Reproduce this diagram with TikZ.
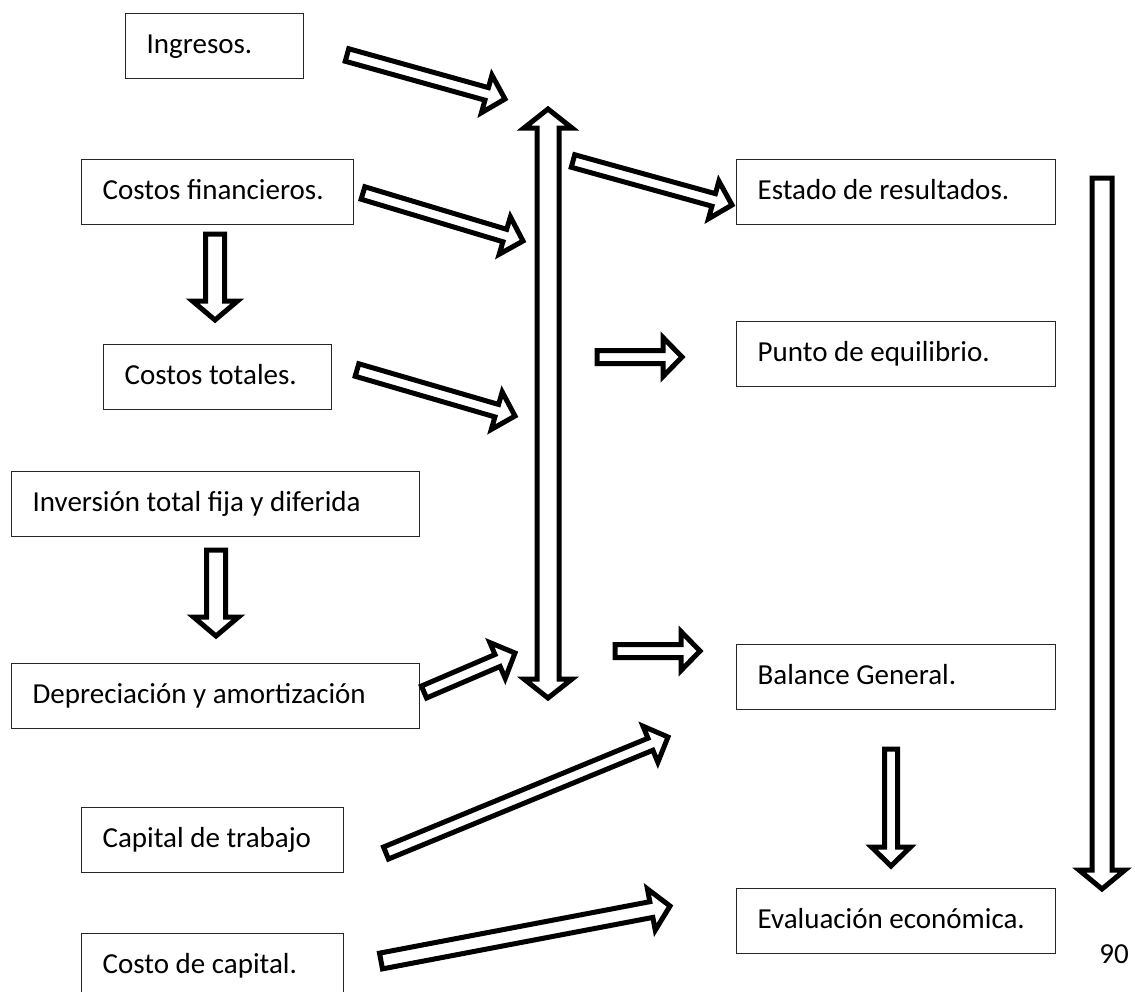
\documentclass[tikz,border=0pt]{standalone}
\usepackage{fontspec}
\setmainfont{Carlito}
\usetikzlibrary{calc}

\def\fahead{19pt}
\newcommand{\fatarrow}[3][6.5]{%
  \pgfmathsetlengthmacro\fahw{#1pt+13pt}%
  \coordinate (fa-h) at ($(#3)!\fahead!(#2)$);
  \draw[fatline] ($(#2)!#1pt!90:(#3)$) -- ($(fa-h)!#1pt!90:(#3)$)
    -- ($(fa-h)!\fahw!90:(#3)$) -- (#3)
    -- ($(fa-h)!\fahw!-90:(#3)$) -- ($(fa-h)!#1pt!-90:(#3)$)
    -- ($(#2)!#1pt!-90:(#3)$) -- cycle;}
\newcommand{\fatdarrow}[3][11]{%
  \pgfmathsetlengthmacro\fahw{#1pt+13pt}%
  \coordinate (fd-a) at ($(#2)!\fahead!(#3)$);
  \coordinate (fd-b) at ($(#3)!\fahead!(#2)$);
  \draw[fatline] (#2) -- ($(fd-a)!\fahw!90:(#3)$) -- ($(fd-a)!#1pt!90:(#3)$)
    -- ($(fd-b)!#1pt!90:(#3)$) -- ($(fd-b)!\fahw!90:(#3)$) -- (#3)
    -- ($(fd-b)!\fahw!-90:(#3)$) -- ($(fd-b)!#1pt!-90:(#3)$)
    -- ($(fd-a)!#1pt!-90:(#3)$) -- ($(fd-a)!\fahw!-90:(#3)$) -- cycle;}

\begin{document}
\begin{tikzpicture}[x=1pt,y=-1pt,
  itembox/.style={draw=black!85, line width=1.3pt, anchor=north west,
    minimum height=65pt, inner xsep=21pt, inner ysep=0pt, text width=#1,
    align=flush left, text height=20pt, text depth=6pt,
    font=\fontsize{29}{35}\selectfont},
  fatline/.style={draw=black, fill=white, line width=5pt, line join=miter}]
\useasboundingbox (0,0) rectangle (1135,991);

\node[itembox=136pt] (ing) at (125,13) {Ingresos.};
\node[itembox=230pt] (cfin) at (81,159) {Costos financieros.};
\node[itembox=186pt] (ctot) at (103,344) {Costos totales.};
\node[itembox=366pt] (inv) at (11,471) {Inversión total fija y diferida};
\node[itembox=366pt] (dep) at (11,663) {Depreciación y amortización};
\node[itembox=220pt] (ctrab) at (81,807) {Capital de trabajo};
\node[itembox=220pt] (ccap) at (81,933) {Costo de capital.};
\node[itembox=277pt] (edo) at (736,159) {Estado de resultados.};
\node[itembox=277pt] (pe) at (736,321) {Punto de equilibrio.};
\node[itembox=277pt] (bg) at (736,644) {Balance General.};
\node[itembox=277pt] (ee) at (736,888) {Evaluación económica.};
\node[font=\fontsize{29}{35}\selectfont] (pag) at (1114,954) {90};

\coordinate (t1) at (347,55);   \coordinate (h1) at (505,99);
\coordinate (t2) at (363,193);  \coordinate (h2) at (523,241);
\coordinate (t3) at (573,161);  \coordinate (h3) at (732,205);
\coordinate (t4) at (357,370);  \coordinate (h4) at (515,416);
\coordinate (t5) at (597,357);  \coordinate (h5) at (682,357);
\coordinate (t6) at (615,651);  \coordinate (h6) at (700,651);
\coordinate (t7) at (424,692);  \coordinate (h7) at (515,653);
\coordinate (t8) at (386,853);  \coordinate (h8) at (668,737);
\coordinate (t9) at (381,961);  \coordinate (h9) at (670,906);
\coordinate (vf) at (215,234);  \coordinate (vt) at (215,320);
\coordinate (vi) at (216,550);  \coordinate (vd) at (216,636);
\coordinate (vb) at (891,749);  \coordinate (ve) at (891,866);
\coordinate (rt) at (1102,178); \coordinate (rb) at (1102,889);
\coordinate (ct) at (548,109);  \coordinate (cb) at (548,698);

\fatarrow{t1}{h1}
\fatarrow{t2}{h2}
\fatarrow{t3}{h3}
\fatarrow{t4}{h4}
\fatarrow{t5}{h5}
\fatarrow{t6}{h6}
\fatarrow{t7}{h7}
\fatarrow{t8}{h8}
\fatarrow[8]{t9}{h9}
\fatarrow[9.5]{vf}{vt}
\fatarrow[9.5]{vi}{vd}
\fatarrow[6.5]{vb}{ve}
\fatarrow[10]{rt}{rb}
\fatdarrow[11]{ct}{cb}
\end{tikzpicture}
\end{document}
